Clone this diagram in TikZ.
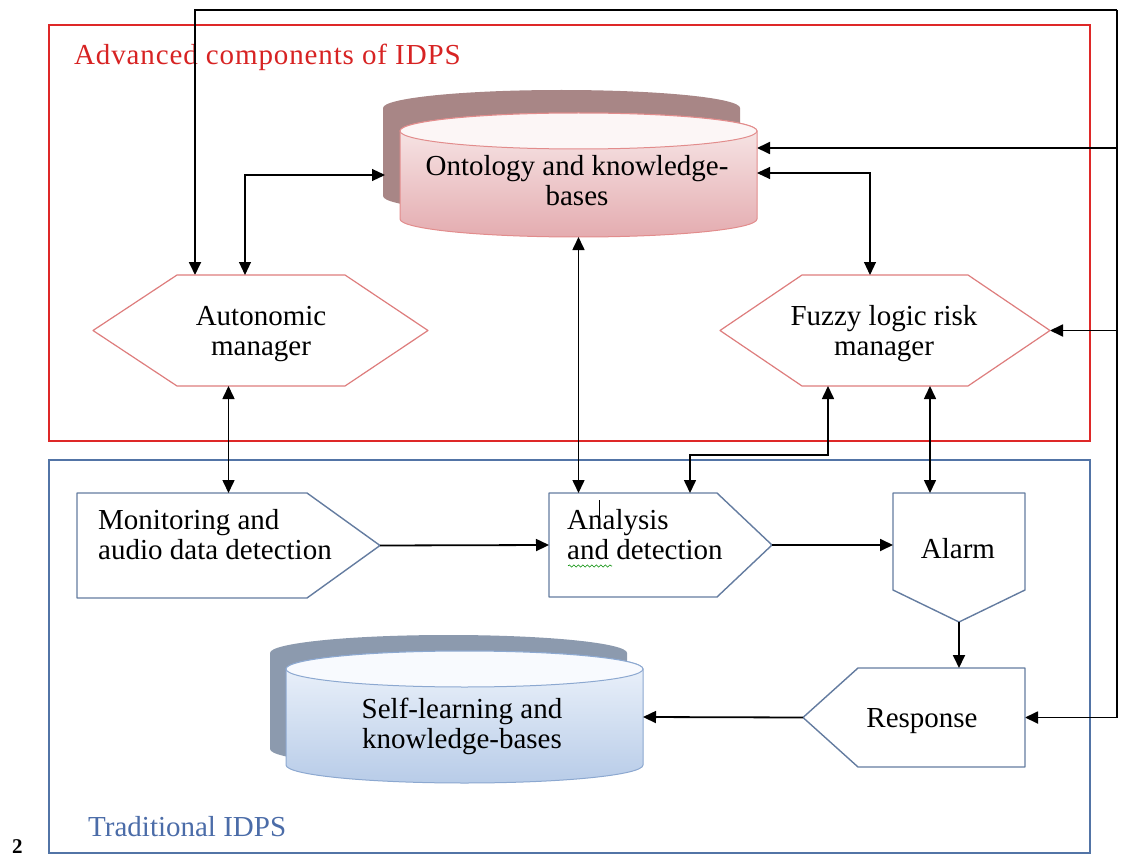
\documentclass[tikz,border=0pt]{standalone}
\usepackage{fontspec}
\setmainfont{Liberation Serif}
\usetikzlibrary{arrows.meta,decorations.pathmorphing}
\definecolor{frameRed}{RGB}{222,40,40}
\definecolor{titleRed}{RGB}{215,35,35}
\definecolor{hexRed}{RGB}{222,125,125}
\definecolor{ontoLine}{RGB}{226,140,140}
\definecolor{ontoTopC}{RGB}{249,236,236}
\definecolor{ontoBotC}{RGB}{228,172,176}
\definecolor{ontoEll}{RGB}{252,246,246}
\definecolor{ontoShadow}{RGB}{168,134,134}
\definecolor{frameBlue}{RGB}{82,116,166}
\definecolor{titleBlue}{RGB}{75,108,168}
\definecolor{boxBlue}{RGB}{100,124,160}
\definecolor{selfLine}{RGB}{140,168,208}
\definecolor{selfTopC}{RGB}{240,245,252}
\definecolor{selfBotC}{RGB}{184,204,232}
\definecolor{selfEll}{RGB}{248,250,254}
\definecolor{selfShadow}{RGB}{140,154,174}
\tikzset{bigtip/.tip={Triangle[length=13pt,width=12pt]}}
\begin{document}
\begin{tikzpicture}[x=1pt,y=-1pt,
  every node/.style={font=\fontsize{29}{30}\selectfont, inner sep=0pt},
  bounds/.style={draw=none, inner sep=0pt, outer sep=0pt},
  hexline/.style={draw=hexRed, line width=1.2pt, fill=white, line join=round},
  penta/.style={draw=boxBlue, line width=1.4pt, fill=white, line join=round},
  arr/.style={line width=1.8pt, -bigtip},
  darr/.style={line width=1.6pt, bigtip-bigtip},
  thindarr/.style={line width=1.1pt, bigtip-bigtip}
]
\useasboundingbox (0,0) rectangle (1128,856);

% frames
\draw[frameRed, line width=1.6pt] (49,25) rectangle (1090,441);
\draw[frameBlue, line width=1.4pt] (49,460) rectangle (1090,853);
\node[anchor=west, text=titleRed] (advtitle) at (74,57) {\addfontfeatures{LetterSpace=3}Advanced components of IDPS};
\node[anchor=west, text=titleBlue] (tradtitle) at (88,827) {Traditional IDPS};
\node[anchor=base west, font=\fontsize{21}{21}\selectfont\bfseries] (pagenum) at (12,853) {2};

% bounds of shapes
\node[bounds, minimum width=335pt, minimum height=111pt] (auto) at (260.5,330.5) {};
\node[bounds, minimum width=330pt, minimum height=111pt] (fuzzy) at (885,330.5) {};
\node[bounds, minimum width=303pt, minimum height=105pt] (mon) at (228.5,545.5) {};
\node[bounds, minimum width=223pt, minimum height=104pt] (ana) at (660.5,545) {};
\node[bounds, minimum width=132pt, minimum height=129pt] (alarm) at (959,557.5) {};
\node[bounds, minimum width=222pt, minimum height=99pt] (resp) at (914,717.5) {};
\node[bounds, minimum width=357pt, minimum height=124pt] (onto) at (578.5,175) {};
\node[bounds, minimum width=357pt, minimum height=132pt] (self) at (464.5,717) {};
\coordinate (loopTR) at (1117,10);
\coordinate (loopTL) at (195,10);

% outer feedback loop
\draw[arr] (loopTR) -- (loopTL) -- (loopTL |- auto.north);
\draw[arr] (loopTR) |- (resp.east);
\coordinate (ontoR1) at ([yshift=27pt]onto.east);
\draw[arr] (ontoR1 -| loopTR) -- (ontoR1);
\draw[arr] (fuzzy.east -| loopTR) -- (fuzzy.east);

% ontology cylinder
\fill[ontoShadow] (383,108) -- (383,196) arc[start angle=180,end angle=0,x radius=178.5,y radius=18] -- (740,108) arc[start angle=0,end angle=-180,x radius=178.5,y radius=18] -- cycle;
\shade[top color=ontoTopC, bottom color=ontoBotC, draw=ontoLine, line width=1pt] (400,131) -- (400,219) arc[start angle=180,end angle=0,x radius=178.5,y radius=18] -- (757,131) arc[start angle=0,end angle=-180,x radius=178.5,y radius=18] -- cycle;
\filldraw[fill=ontoEll, draw=ontoLine, line width=1pt] (578.5,131) ellipse[x radius=178.5, y radius=18];
\node[align=center] (onto-t) at (577,181) {Ontology and knowledge-\\bases};

% self-learning cylinder
\fill[selfShadow] (270,653) -- (270,749) arc[start angle=180,end angle=0,x radius=178.5,y radius=18] -- (627,653) arc[start angle=0,end angle=-180,x radius=178.5,y radius=18] -- cycle;
\shade[top color=selfTopC, bottom color=selfBotC, draw=selfLine, line width=1pt] (286,669) -- (286,765) arc[start angle=180,end angle=0,x radius=178.5,y radius=18] -- (643,669) arc[start angle=0,end angle=-180,x radius=178.5,y radius=18] -- cycle;
\filldraw[fill=selfEll, draw=selfLine, line width=1pt] (464.5,669) ellipse[x radius=178.5, y radius=18];
\node[align=center] (self-t) at (462,726) {Self-learning and\\knowledge-bases};

% hexagons
\draw[hexline] (auto.west) -- ([xshift=84pt]auto.north west) -- ([xshift=-83pt]auto.north east) -- (auto.east) -- ([xshift=-83pt]auto.south east) -- ([xshift=84pt]auto.south west) -- cycle;
\node[align=center] (auto-t) at (261,334) {Autonomic\\manager};
\draw[hexline] (fuzzy.west) -- ([xshift=82pt]fuzzy.north west) -- ([xshift=-82pt]fuzzy.north east) -- (fuzzy.east) -- ([xshift=-82pt]fuzzy.south east) -- ([xshift=82pt]fuzzy.south west) -- cycle;
\node[align=center] (fuzzy-t) at (884,334) {Fuzzy logic risk\\manager};

% traditional boxes
\draw[penta] (mon.north west) -- ([xshift=-73pt]mon.north east) -- (mon.east) -- ([xshift=-73pt]mon.south east) -- (mon.south west) -- cycle;
\node[align=left, anchor=west] (mon-t) at (98,535) {Monitoring and\\audio data detection};
\draw[penta] (ana.north west) -- ([xshift=-55pt]ana.north east) -- (ana.east) -- ([xshift=-55pt]ana.south east) -- (ana.south west) -- cycle;
\node[align=left, anchor=west] (ana-t) at (567,535) {Analysis\\and detection};
\draw[line width=0.8pt] (599,500) -- (599,528);
\draw[green!55!black, line width=0.6pt, decorate, decoration={snake, amplitude=1.1pt, segment length=4.5pt}] (568,566) -- (612,566);
\draw[penta] (alarm.north west) -- (alarm.north east) -- ([yshift=32pt]alarm.south east) -- (alarm.south) -- ([yshift=32pt]alarm.south west) -- cycle;
\node (alarm-t) at (958,549) {Alarm};
\draw[penta] (resp.west) -- ([xshift=55pt]resp.north west) -- (resp.north east) -- (resp.south east) -- ([xshift=55pt]resp.south west) -- cycle;
\node (resp-t) at (922,721) {Response};

% connectors
\draw[thindarr] ([xshift=-15.5pt]auto.north) |- ([xshift=-15pt]onto.west);
\draw[thindarr] ([yshift=2pt]onto.east) -| ([xshift=-15pt]fuzzy.north);
\draw[darr] (onto.south) -- (onto.south |- ana.north);
\draw[darr] (mon.north |- auto.south) -- (mon.north);
\draw[darr] ([xshift=29.5pt]ana.north) -- ++(0,-38) -| ([xshift=-57pt]fuzzy.south);
\draw[darr] ([xshift=45pt]fuzzy.south) -- ([xshift=-29pt]alarm.north);
\draw[arr] (mon.east) -- (ana.west);
\draw[arr] (ana.east) -- (ana.east -| alarm.west);
\draw[arr] (alarm.south) -- (alarm.south |- resp.north);
\draw[arr] (resp.west) -- (self.east);
\end{tikzpicture}
\end{document}
